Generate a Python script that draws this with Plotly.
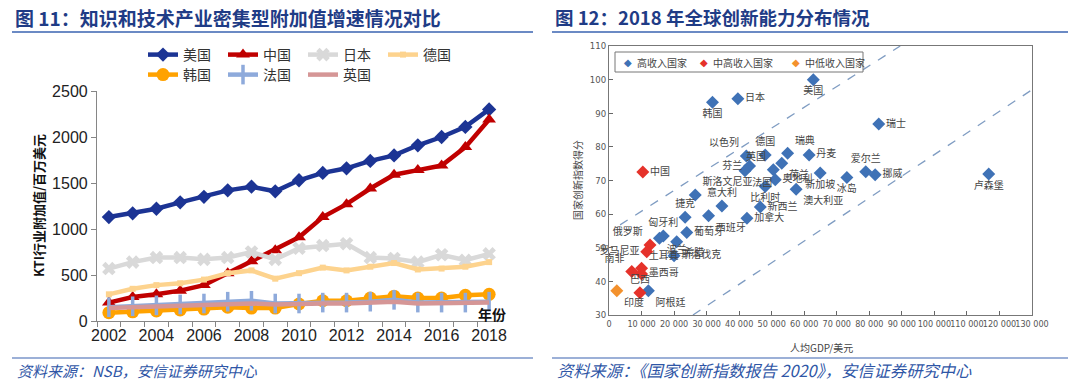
import plotly.graph_objects as go

# ---------------- Left chart data ----------------
years = list(range(2002, 2019))
year_ticks = [2002, 2004, 2006, 2008, 2010, 2012, 2014, 2016, 2018]
year_ticktext = ["2002", "2004", "2006", "2008", "2010", "2012", "2014", "2016", "2018"]
usa = [1130, 1170, 1220, 1290, 1350, 1420, 1460, 1410, 1530, 1610, 1660, 1740, 1800, 1910, 2000, 2110, 2300]
china = [200, 260, 290, 330, 390, 520, 650, 770, 910, 1130, 1270, 1440, 1590, 1640, 1690, 1890, 2190]
japan = [570, 640, 690, 690, 670, 690, 750, 670, 790, 820, 840, 690, 680, 640, 720, 660, 730]
germany = [290, 350, 390, 410, 450, 520, 550, 460, 520, 580, 550, 590, 630, 560, 570, 590, 640]
korea = [90, 100, 110, 120, 130, 150, 140, 140, 185, 220, 220, 250, 270, 250, 250, 280, 290]
france = [150, 160, 170, 180, 190, 210, 220, 190, 190, 200, 200, 210, 230, 200, 200, 200, 210]
uk = [140, 150, 160, 170, 180, 190, 190, 180, 190, 190, 190, 200, 210, 190, 190, 190, 200]

# ---------------- Right chart data ----------------
high_names = ["美国", "日本", "韩国", "瑞士", "以色列", "德国", "瑞典", "丹麦", "芬兰", "英国", "法国",
              "荷兰", "奥地利", "比利时", "澳大利亚", "新加坡", "冰岛", "爱尔兰", "挪威", "卢森堡",
              "新西兰", "加拿大", "意大利", "西班牙", "斯洛文尼亚", "捷克", "葡萄牙", "匈牙利", "波兰",
              "希腊", "斯洛伐克", "阿根廷"]
high_gdp = [62800, 39600, 31800, 82900, 42200, 48000, 54900, 61500, 43200, 50500, 41800,
            53100, 51100, 48000, 57500, 64900, 73100, 78900, 81800, 116700,
            46500, 42400, 34700, 30600, 26500, 23400, 23900, 16700, 15500,
            20800, 20000, 12100]
high_score = [100.0, 94.3, 93.3, 86.8, 77.3, 77.6, 78.1, 77.6, 74.3, 73.2, 72.9,
              75.1, 70.2, 68.2, 67.4, 72.2, 70.9, 72.6, 71.7, 71.9,
              62.1, 58.8, 62.4, 59.5, 65.7, 59.1, 54.5, 53.5, 52.8,
              51.8, 47.6, 37.2]
umid_names = ["中国", "俄罗斯", "罗马尼亚", "土耳其", "南非", "墨西哥", "巴西"]
umid_gdp = [10400, 12600, 11600, 10000, 7000, 10000, 9500]
umid_score = [72.5, 50.8, 48.8, 43.9, 42.9, 42.2, 36.6]
lmid_names = ["印度"]
lmid_gdp = [2400]
lmid_score = [37.2]
group_names = ["高收入国家", "中高收入国家", "中低收入国家"]
group_colors = ["#3f72b6", "#e5322a", "#f3912d"]
# reference dashed lines (data-space endpoints)
upper_line_x = [3400, 89500]
upper_line_y = [56.8, 110]
lower_line_x = [25800, 130000]
lower_line_y = [30, 97]
gdp_ticks = [0, 10000, 20000, 30000, 40000, 50000, 60000, 70000, 80000, 90000, 100000, 110000, 120000, 130000]
gdp_ticktext = ["0", "10 000", "20 000", "30 000", "40 000", "50 000", "60 000", "70 000", "80 000",
                "90 000", "100 000", "110 000", "120 000", "130 000"]
score_ticks = [30, 40, 50, 60, 70, 80, 90, 100, 110]

# label placement (style)
label_pos = {
    "美国": "bottom center", "日本": "middle right", "韩国": "bottom center", "瑞士": "middle right",
    "以色列": "top left", "德国": "top center", "瑞典": "top right", "丹麦": "middle right",
    "芬兰": "middle left", "英国": "top left", "法国": "bottom right", "荷兰": "bottom right",
    "奥地利": "middle right", "比利时": "bottom center", "澳大利亚": "bottom right",
    "新加坡": "bottom center", "冰岛": "bottom center", "爱尔兰": "top center", "挪威": "middle right",
    "卢森堡": "bottom center", "新西兰": "middle right", "加拿大": "middle right",
    "意大利": "top center", "西班牙": "bottom right", "斯洛文尼亚": "top right", "捷克": "top center",
    "葡萄牙": "middle right", "匈牙利": "top center", "波兰": "bottom right", "希腊": "bottom right",
    "斯洛伐克": "middle right", "阿根廷": "bottom right",
    "中国": "middle right", "俄罗斯": "top left", "罗马尼亚": "middle left", "土耳其": "top right",
    "南非": "top left", "墨西哥": "middle right", "巴西": "top center", "印度": "bottom right",
}

W, H = 1080, 386
def px(x):
    return x / W
def py(y):
    return 1 - y / H

fig = go.Figure()

line_font = "Arial, 'Liberation Sans', 'Noto Sans CJK SC', sans-serif"
narrow_font = "'Liberation Sans Narrow', 'Arial Narrow', 'DejaVu Sans Condensed', Arial, sans-serif"
cjk_font = "'Noto Sans CJK SC', 'Microsoft YaHei', sans-serif"

left_series = [
    ("美国", usa, "#1c3494", "diamond", 11, "legend"),
    ("中国", china, "#c00000", "triangle-up", 12, "legend"),
    ("日本", japan, "#d9d9d9", "x", 12, "legend"),
    ("德国", germany, "#fdd38e", "square", 6, "legend"),
    ("韩国", korea, "#ffa200", "circle", 13, "legend2"),
    ("法国", france, "#8eaadb", "line-ns", 14, "legend2"),
    ("英国", uk, "#d59696", None, 0, "legend2"),
]
for name, vals, color, sym, size, leg in left_series:
    if sym is None:
        mode = "lines"
        marker = None
    else:
        mode = "lines+markers"
        if sym == "line-ns":
            marker = dict(symbol=sym, size=size, line=dict(color=color, width=3.5), color=color)
        else:
            marker = dict(symbol=sym, size=size, color=color)
    fig.add_trace(go.Scatter(
        x=years, y=vals, name=name, mode=mode, marker=marker,
        line=dict(color=color, width=4.5), xaxis="x", yaxis="y", legend=leg,
    ))

# right chart: dashed reference lines
for lx, ly in [(upper_line_x, upper_line_y), (lower_line_x, lower_line_y)]:
    fig.add_trace(go.Scatter(x=lx, y=ly, mode="lines", showlegend=False, hoverinfo="skip",
                             line=dict(color="#7f9cc2", width=1.3, dash="dash"),
                             xaxis="x2", yaxis="y2"))

for name, xs, ys, labels, color in zip(group_names,
                                        [high_gdp, umid_gdp, lmid_gdp],
                                        [high_score, umid_score, lmid_score],
                                        [high_names, umid_names, lmid_names],
                                        group_colors):
    fig.add_trace(go.Scatter(
        x=xs, y=ys, name=name, mode="markers+text", text=labels,
        textposition=[label_pos[n] for n in labels],
        textfont=dict(size=10, color="#444444", family=cjk_font),
        marker=dict(symbol="diamond", size=10, color=color),
        xaxis="x2", yaxis="y2", showlegend=False, cliponaxis=False,
    ))

axis_gray = "#868686"
fig.update_layout(
    width=W, height=H,
    margin=dict(l=0, r=0, t=0, b=0, autoexpand=False),
    paper_bgcolor="white", plot_bgcolor="white",
    font=dict(family=line_font, color="#333333"),
    xaxis=dict(
        domain=[px(97), px(501)], range=[2001.5, 2018.5],
        tickmode="array", tickvals=year_ticks, ticktext=year_ticktext,
        ticks="", showline=True, linecolor=axis_gray, linewidth=1.2,
        showgrid=False, zeroline=False, tickangle=0, automargin=False,
        tickfont=dict(size=16, color="#222222", family=line_font),
        minor=dict(tickmode="array", tickvals=[y + 0.5 for y in range(2001, 2018)],
                   ticks="outside", ticklen=5, tickcolor=axis_gray, tickwidth=1, showgrid=False),
        anchor="y",
    ),
    yaxis=dict(
        domain=[py(321), py(91)], range=[0, 2500],
        tickvals=[0, 500, 1000, 1500, 2000, 2500],
        ticks="outside", ticklen=5, tickcolor=axis_gray,
        showline=True, linecolor=axis_gray, linewidth=1.2,
        showgrid=False, zeroline=False, automargin=False,
        tickfont=dict(size=16, color="#222222", family=line_font),
        anchor="x",
    ),
    xaxis2=dict(
        domain=[px(609), px(1032)], range=[0, 130000],
        tickmode="array", tickvals=gdp_ticks, ticktext=gdp_ticktext,
        ticks="inside", ticklen=4, tickcolor="#666666", tickangle=0,
        showline=True, linecolor="#777777", linewidth=1, mirror=True,
        showgrid=False, zeroline=False, automargin=False,
        tickfont=dict(size=9, color="#555555", family=narrow_font),
        anchor="y2",
    ),
    yaxis2=dict(
        domain=[py(315), py(46)], range=[30, 110],
        tickvals=score_ticks,
        ticks="inside", ticklen=4, tickcolor="#666666",
        showline=True, linecolor="#777777", linewidth=1, mirror=True,
        showgrid=False, zeroline=False, automargin=False,
        tickfont=dict(size=9.5, color="#555555", family=narrow_font),
        anchor="x2",
    ),
    legend=dict(orientation="h", x=px(143), y=py(55), xanchor="left", yanchor="middle",
                font=dict(size=14, color="#333333", family=cjk_font), entrywidth=35,
                bgcolor="rgba(0,0,0,0)", traceorder="normal", tracegroupgap=0),
    legend2=dict(orientation="h", x=px(143), y=py(75), xanchor="left", yanchor="middle",
                 font=dict(size=14, color="#333333", family=cjk_font), entrywidth=35,
                 bgcolor="rgba(0,0,0,0)", traceorder="normal"),
)

title_color = "#1f3c86"
foot_color = "#2f56a6"
annotations = [
    dict(text="<b>图 11：知识和技术产业密集型附加值增速情况对比</b>", x=px(13), y=py(17),
         xanchor="left", yanchor="middle", font=dict(size=19, color=title_color, family=cjk_font)),
    dict(text="<b>图 12：2018 年全球创新能力分布情况</b>", x=px(553), y=py(17),
         xanchor="left", yanchor="middle", font=dict(size=18.5, color=title_color, family=cjk_font)),
    dict(text="<i>资料来源：NSB，安信证券研究中心</i>", x=px(15), y=py(370),
         xanchor="left", yanchor="middle", font=dict(size=15, color=foot_color, family=cjk_font)),
    dict(text="<i>资料来源：《国家创新指数报告 2020》，安信证券研究中心</i>", x=px(555), y=py(370),
         xanchor="left", yanchor="middle", font=dict(size=16.3, color=foot_color, family=cjk_font)),
    dict(text="<b>KTI行业附加值/百万美元</b>", x=px(38), y=py(206), textangle=-90,
         xanchor="center", yanchor="middle", font=dict(size=13, color="#111111", family=cjk_font)),
    dict(text="<b>年份</b>", x=px(492), y=py(314),
         xanchor="center", yanchor="middle", font=dict(size=14, color="#111111", family=cjk_font)),
    dict(text="国家创新指数得分", x=px(577), y=py(180), textangle=-90,
         xanchor="center", yanchor="middle", font=dict(size=10, color="#444444", family=cjk_font)),
    dict(text="人均GDP/美元", x=px(821), y=py(347),
         xanchor="center", yanchor="middle", font=dict(size=10, color="#444444", family=cjk_font)),
]
# scatter legend (boxed, inside the plot)
legend_marker_x = [628, 704, 796]
for gname, gcolor, mx in zip(group_names, group_colors, legend_marker_x):
    annotations.append(dict(text="◆", x=px(mx), y=py(62), xanchor="center", yanchor="middle",
                            font=dict(size=10, color=gcolor, family="DejaVu Sans")))
    annotations.append(dict(text=gname, x=px(mx + 7), y=py(62), xanchor="left", yanchor="middle",
                            font=dict(size=10, color="#444444", family=cjk_font)))
for a in annotations:
    a.update(xref="paper", yref="paper", showarrow=False)
fig.update_layout(annotations=annotations)

shapes = []
for x0, x1 in [(12, 533), (552, 1068)]:
    shapes.append(dict(type="line", xref="paper", yref="paper", x0=px(x0), x1=px(x1),
                       y0=py(32), y1=py(32), line=dict(color="#3a63b0", width=1.5)))
    shapes.append(dict(type="line", xref="paper", yref="paper", x0=px(x0), x1=px(x1),
                       y0=py(358), y1=py(358), line=dict(color="#3a63b0", width=1.2)))
shapes.append(dict(type="rect", xref="paper", yref="paper", x0=px(615), x1=px(863),
                   y0=py(72), y1=py(52), line=dict(color="#777777", width=1), fillcolor="white",
                   layer="above"))
fig.update_layout(shapes=shapes)

fig.write_html("out.html", config={"displayModeBar": False},
               post_script="document.body.style.margin='0px';document.body.style.overflow='hidden';")
